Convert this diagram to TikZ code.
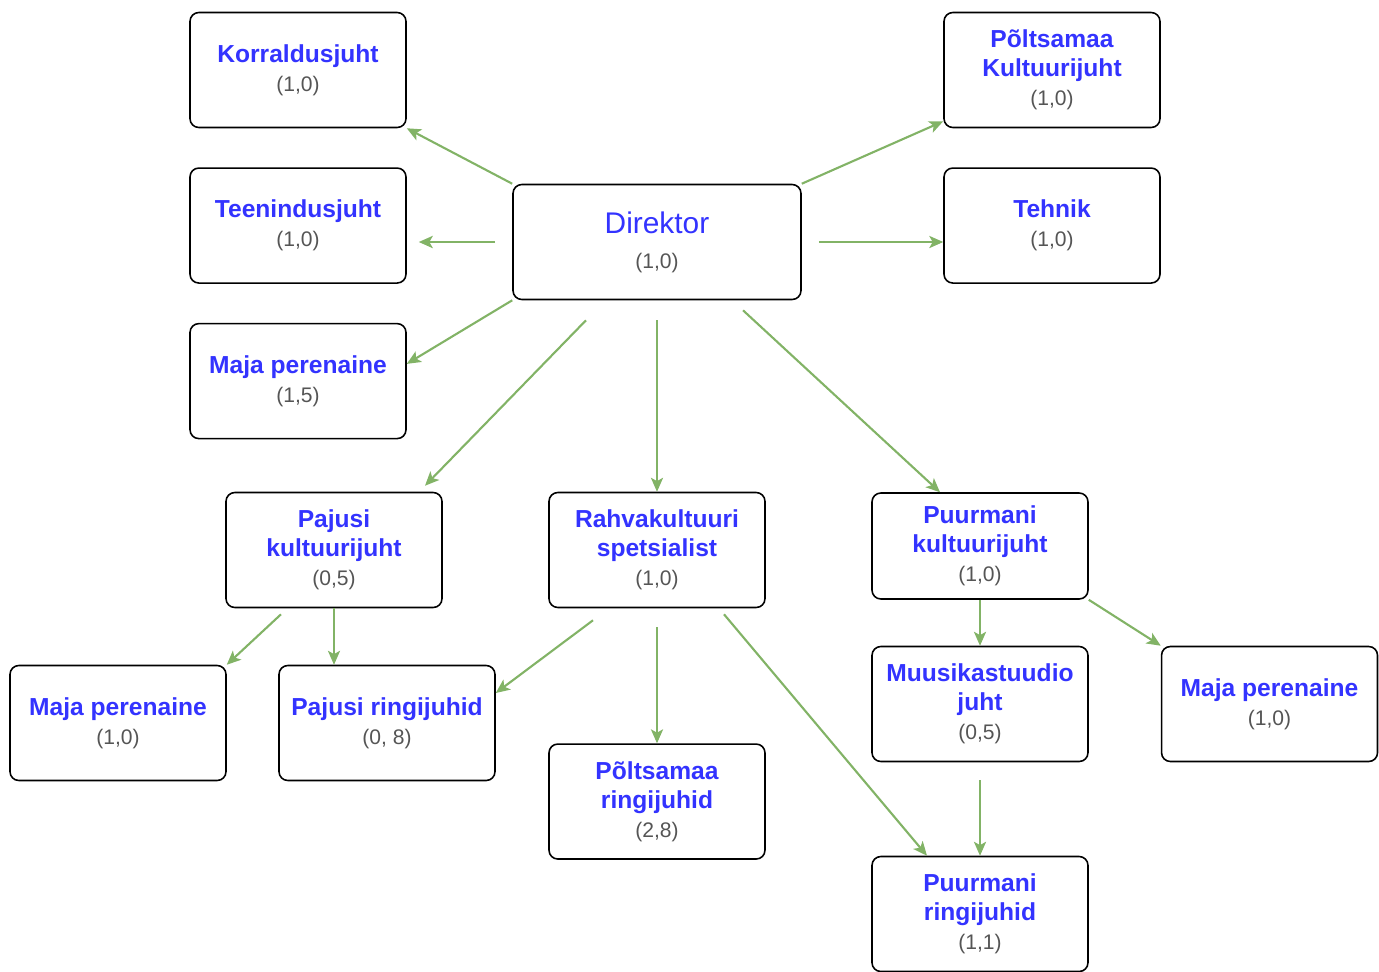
\documentclass[tikz,border=0pt]{standalone}
\usepackage{fontspec}
\setmainfont{Liberation Sans}
\usepackage{tikz}
\usetikzlibrary{arrows.meta,positioning,calc}

\definecolor{linkgreen}{HTML}{82B366}
\definecolor{roleblue}{HTML}{3333FF}
\definecolor{ftegray}{HTML}{555555}
\newcommand{\fte}[1]{{\color{ftegray}\mdseries\fontsize{12}{14}\selectfont #1}}

\begin{document}
\begin{tikzpicture}[
    x=0.02cm, y=-0.02cm,
    >={Stealth[length=8pt,width=7pt,inset=2pt]},
    unit/.style={
        rectangle, draw, line width=0.9pt, rounded corners=5pt,
        minimum width=4.32cm, minimum height=2.3cm,
        align=center, text=roleblue,
        font=\fontsize{14}{16.5}\selectfont\bfseries
    },
    conn/.style={->, line width=1.2pt, color=linkgreen},
    thin/.style={->, line width=0.6pt, color=linkgreen}
]
    \useasboundingbox (0,0) rectangle (1379,971);

    % Nodes
    \node[unit, minimum width=5.76cm, font=\fontsize{17}{20}\selectfont] (dir) at (657,242) {Direktor\\\fte{(1,0)}};

    \node[unit] (korr) at (298,70) {Korraldusjuht\\\fte{(1,0)}};
    \node[unit, below=0.78cm of korr] (teen) {Teenindusjuht\\\fte{(1,0)}};
    \node[unit, below=0.78cm of teen] (maja1) {Maja perenaine\\\fte{(1,5)}};

    \node[unit] (polt) at (1052,70) {Põltsamaa\\Kultuurijuht\\\fte{(1,0)}};
    \node[unit, below=0.78cm of polt] (tehnik) {Tehnik\\\fte{(1,0)}};

    \node[unit] (pajusi) at (334,550) {Pajusi\\kultuurijuht\\\fte{(0,5)}};
    \node[unit] (rahva) at (657,550) {Rahvakultuuri\\spetsialist\\\fte{(1,0)}};
    \node[unit, minimum height=2.12cm] (puur) at (980,546) {Puurmani\\kultuurijuht\\\fte{(1,0)}};

    \node[unit] (maja2) at (118,723) {Maja perenaine\\\fte{(1,0)}};
    \node[unit] (pring) at (387,723) {Pajusi ringijuhid\\\fte{(0, 8)}};
    \node[unit, below=2.7cm of rahva] (poltring) {Põltsamaa\\ringijuhid\\\fte{(2,8)}};
    \node[unit] (muus) at (980,704) {Muusikastuudio\\juht\\\fte{(0,5)}};
    \node[unit, right=1.44cm of muus] (maja3) {Maja perenaine\\\fte{(1,0)}};
    \node[unit] (puurring) at (980,914) {Puurmani\\ringijuhid\\\fte{(1,1)}};

    % Connections
    \draw[conn] (dir.north west) -- (korr.south east);
    \draw[conn, shorten <=0.34cm, shorten >=0.24cm] (dir.west) -- (dir.west -| teen.east);
    \draw[conn] (dir.south west) -- (maja1.9);
    \draw[conn] ($(dir.south)+(-71,20)$) -- ($(pajusi.north)+(91,-6)$);
    \draw[thin, shorten <=0.4cm] (dir.south) -- (rahva.north);
    \draw[conn] ($(dir.south)+(86,10)$) -- ($(puur.north)+(-40,0)$);
    \draw[conn] (dir.north east) -- ($(polt.south west)+(0,-7)$);
    \draw[thin, shorten <=0.34cm] (dir.east) -- (dir.east -| tehnik.west);

    \draw[conn] ($(pajusi.south)+(-53,6)$) -- (maja2.north east);
    \draw[thin] (pajusi.south) -- (pajusi.south |- pring.north);
    \draw[conn] ($(rahva.south)+(-64,12)$) -- ($(pring.east)+(0,-30)$);
    \draw[thin, shorten <=0.38cm] (rahva.south) -- (poltring.north);
    \draw[conn] ($(rahva.south)+(67,6)$) -- ($(puurring.north)+(-53,0)$);

    \draw[thin] (puur.south) -- (muus.north);
    \draw[conn] (puur.south east) -- (maja3.north west);
    \draw[thin, shorten <=0.36cm] (muus.south) -- (puurring.north);

\end{tikzpicture}
\end{document}
